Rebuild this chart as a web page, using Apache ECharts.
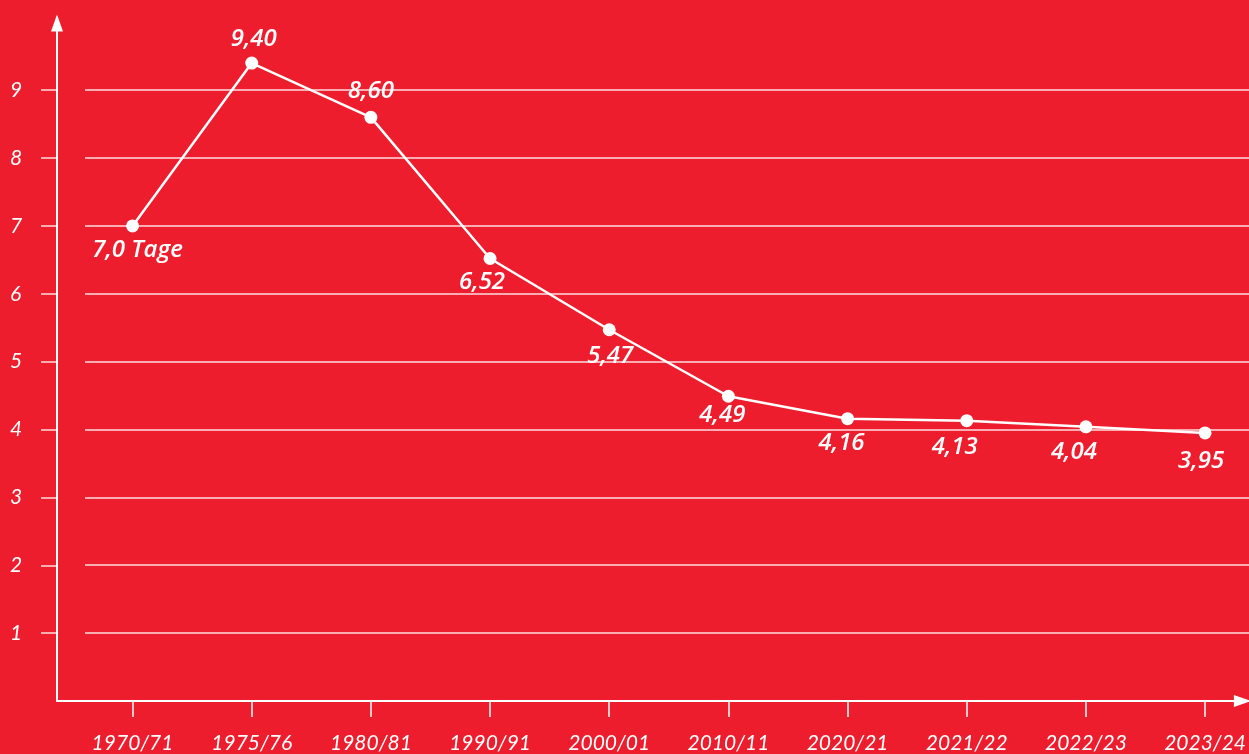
<!DOCTYPE html>
<html><head><meta charset="utf-8">
<script src="https://cdn.jsdelivr.net/npm/echarts@6/dist/echarts.min.js"></script>
<style>html,body{margin:0;padding:0;background:#EE1D2D;}#c{width:1249px;height:754px;}</style>
</head><body><div id="c"></div>
<script>
const categories = ['1970/71','1975/76','1980/81','1990/91','2000/01','2010/11','2020/21','2021/22','2022/23','2023/24'];
const values = [7.0, 9.40, 8.60, 6.52, 5.47, 4.49, 4.16, 4.13, 4.04, 3.95];
const valueLabels = ['7,0 Tage','9,40','8,60','6,52','5,47','4,49','4,16','4,13','4,04','3,95'];
const yTicks = [1,2,3,4,5,6,7,8,9];

// label placement (style, not data)
const labelOffsets = [[5,24],[2,-24],[0,-26],[-8,24],[1,26],[-6,19],[-6,24],[-12,26],[-12,25],[-4,28]];

const AXFONT = 'Lato, "Open Sans", sans-serif';
const LBLFONT = '"Open Sans", Lato, sans-serif';
const chart = echarts.init(document.getElementById('c'));
const idx = categories.map((c,i)=>i);

chart.setOption({
  animation: false,
  backgroundColor: '#EE1D2D',
  grid: [
    {left: 57, right: 0, top: 23, bottom: 53},
    {left: 85, right: 0, top: 89.9, bottom: 53}
  ],
  xAxis: [
    {
      type: 'value', gridIndex: 0, min: -0.634, max: 9.313,
      axisLine: {show: true, onZero: false, lineStyle: {color: '#fff', width: 2}, symbol: ['none','triangle'], symbolSize: [12, 17]},
      axisTick: {show: true, customValues: idx, length: 16, lineStyle: {color: '#fff', width: 1.5}},
      axisLabel: {show: true, customValues: idx, formatter: v => categories[Math.round(v)],
        color: '#fff', fontFamily: AXFONT, fontStyle: 'italic', fontSize: 21, margin: 32},
      splitLine: {show: false}
    },
    {type: 'value', gridIndex: 1, min: -0.634, max: 9.313, show: false}
  ],
  yAxis: [
    {
      type: 'value', gridIndex: 0, min: 0, max: 9.99,
      axisLine: {show: true, onZero: false, lineStyle: {color: '#fff', width: 2}, symbol: ['none','triangle'], symbolSize: [12, 17]},
      axisTick: {show: true, customValues: yTicks, length: 16, lineStyle: {color: 'rgba(255,255,255,0.85)', width: 1.5}},
      axisLabel: {show: true, customValues: yTicks, color: '#fff', fontFamily: AXFONT, fontStyle: 'italic',
        fontSize: 21, align: 'left', margin: 47},
      splitLine: {show: false}
    },
    {
      type: 'value', gridIndex: 1, min: 0, max: 9, interval: 1,
      axisLine: {show: false, onZero: false}, axisTick: {show: false}, axisLabel: {show: false},
      splitLine: {show: true, lineStyle: {color: 'rgba(255,255,255,0.85)', width: 1.5}}
    }
  ],
  series: [{
    type: 'line', xAxisIndex: 0, yAxisIndex: 0, z: 5,
    data: values.map((v,i)=>({value: [i, v], label: {offset: labelOffsets[i]}})),
    lineStyle: {color: '#fff', width: 2.5},
    symbol: 'circle', symbolSize: 13,
    itemStyle: {color: '#fff'},
    label: {show: true, position: 'inside', formatter: p => valueLabels[p.dataIndex],
      color: '#fff', fontFamily: LBLFONT, fontStyle: 'italic', fontWeight: 600, fontSize: 24}
  }]
});
</script>
</body></html>
